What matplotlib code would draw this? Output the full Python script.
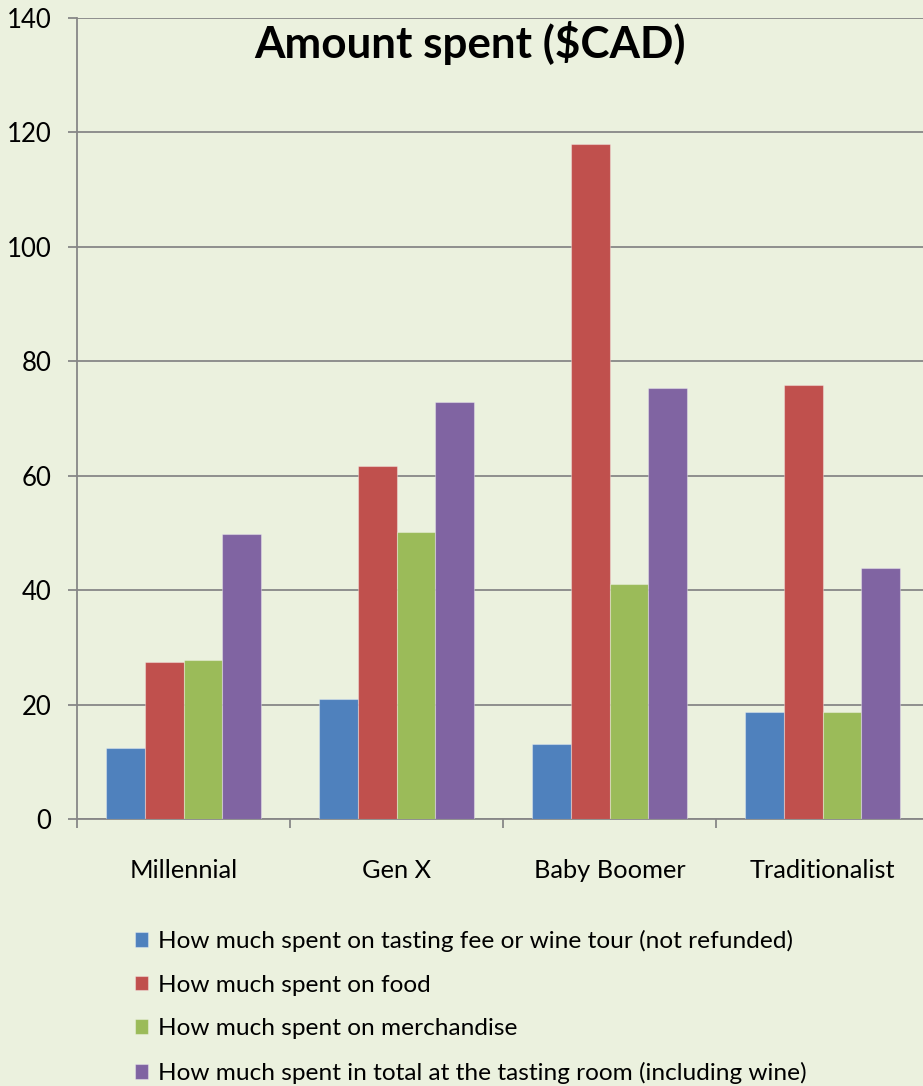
import matplotlib
matplotlib.use("Agg")
import matplotlib.pyplot as plt
import numpy as np

plt.rcParams['font.family'] = ['Lato', 'DejaVu Sans']

categories = ["Millennial", "Gen X", "Baby Boomer", "Traditionalist"]
series_labels = [
    "How much spent on tasting fee or wine tour (not refunded)",
    "How much spent on food",
    "How much spent on merchandise",
    "How much spent in total at the tasting room (including wine)",
]
tasting_fee = [12.4, 20.9, 13.1, 18.7]
food = [27.5, 61.7, 118.0, 75.9]
merchandise = [27.8, 50.2, 41.1, 18.7]
total = [49.8, 72.8, 75.4, 43.8]
series_values = [tasting_fee, food, merchandise, total]
colors = ["#4F81BD", "#C0504D", "#9BBB59", "#8064A2"]
y_ticks = [0, 20, 40, 60, 80, 100, 120, 140]

bg = "#EBF1DE"
grid_c = "#878787"

fig = plt.figure(figsize=(9.23, 10.86), dpi=100, facecolor=bg)
ax = fig.add_axes([77 / 923, 1 - 819 / 1086, 852 / 923, 801 / 1086], facecolor=bg)

x = np.arange(len(categories))
width = 1 / 5.5
handles = []
for i, (vals, col, lab) in enumerate(zip(series_values, colors, series_labels)):
    offs = (i - 1.5) * width
    b = ax.bar(x + offs, vals, width=width, color=col, label=lab,
               edgecolor=(1, 1, 1, 0.35), linewidth=0.8, zorder=3)
    handles.append(b)

ax.set_xlim(-0.5, len(categories) - 0.5)
ax.set_ylim(0, 140)
ax.set_yticks(y_ticks)
ax.set_yticklabels([str(v) for v in y_ticks], fontsize=18.5)
ax.yaxis.grid(True, color=grid_c, linewidth=1.3, zorder=1)
ax.set_axisbelow(True)

ax.set_xticks(x)
ax.set_xticklabels(categories, fontsize=18.3)
ax.set_xticks(np.arange(-0.5, len(categories) + 0.5, 1), minor=True)
ax.tick_params(axis='x', which='major', length=0, pad=29)
ax.tick_params(axis='x', which='minor', length=6.5, width=1.3, color=grid_c, direction='out')
ax.tick_params(axis='y', length=6.5, width=1.3, color=grid_c, direction='out', pad=12)

for s in ['top', 'right']:
    ax.spines[s].set_visible(False)
for s in ['left', 'bottom']:
    ax.spines[s].set_color(grid_c)
    ax.spines[s].set_linewidth(1.3)

fig.text(470 / 923, 1 - 43 / 1086, "Amount spent ($CAD)", ha='center', va='center',
         fontsize=31.7, fontweight='bold')

leg = fig.legend(handles=handles, labels=series_labels, loc='upper left',
                 bbox_to_anchor=(125 / 923, 1 - 920 / 1086), frameon=False,
                 fontsize=17.6, handlelength=0.55, handleheight=0.55, handletextpad=0.4,
                 labelspacing=0.93, borderaxespad=0)

fig.savefig("out.png", dpi=100, facecolor=bg)
